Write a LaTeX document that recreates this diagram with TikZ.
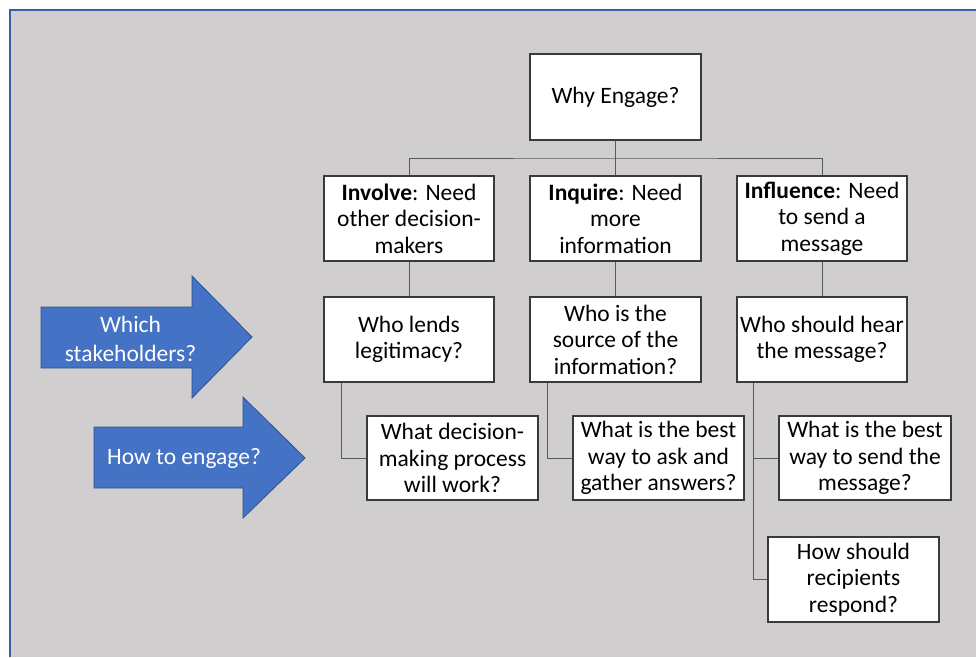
\documentclass[tikz,border=0pt]{standalone}
\usepackage{fontspec}
\setmainfont{Carlito}
\definecolor{bg}{HTML}{D0CECE}
\definecolor{arrowblue}{HTML}{4472C4}
\definecolor{arrowline}{HTML}{2F528F}
\definecolor{frameblue}{HTML}{3B5EA6}
\definecolor{boxline}{HTML}{3A3A3A}
\definecolor{connline}{HTML}{595959}
\begin{document}
\begin{tikzpicture}[x=1pt,y=-1pt,
  box/.style={draw=boxline, line width=1.1pt, fill=white, inner sep=0pt, align=center,
    font=\fontsize{23.5}{26.5}\selectfont},
  conn/.style={draw=connline, line width=1pt},
  bigarrow/.style={fill=arrowblue, draw=arrowline, line width=0.8pt, line join=miter},
  arrowtext/.style={text=white, align=center, inner sep=0pt, font=\fontsize{23.5}{29}\selectfont}]
\useasboundingbox (0,0) rectangle (976,657);
\fill[white] (0,0) rectangle (976,657);
\fill[bg] (10,10) rectangle (976,657);
\draw[frameblue, line width=2pt] (10,657) -- (10,10) -- (976,10);

% boxes
\node[box, minimum width=171pt, minimum height=86pt] (top) at (615.5,97) {Why Engage?};
\node[box, minimum width=170pt, minimum height=85pt] (inv) at (409,218.5) {\textbf{Involve}: Need\\other decision-\\makers};
\node[box, minimum width=171pt, minimum height=85pt] (inq) at (615.5,218.5) {\textbf{Inquire}: Need\\more\\information};
\node[box, minimum width=170pt, minimum height=85pt] (inf) at (822,218.5) {\textbf{Influence}: Need\\to send a\\message};
\node[box, minimum width=170pt, minimum height=85pt] (s1) at (409,339.5) {Who lends\\legitimacy?};
\node[box, minimum width=171pt, minimum height=85pt] (s2) at (615.5,339.5) {Who is the\\source of the\\information?};
\node[box, minimum width=170pt, minimum height=85pt] (s3) at (822,339.5) {Who should hear\\the message?};
\node[box, minimum width=171pt, minimum height=84pt] (h1) at (452.5,458) {What decision-\\making process\\will work?};
\node[box, minimum width=171pt, minimum height=84pt] (h2) at (658.5,458) {What is the best\\way to ask and\\gather answers?};
\node[box, minimum width=172pt, minimum height=84pt] (h3) at (865,458) {What is the best\\way to send the\\message?};
\node[box, minimum width=171pt, minimum height=85pt] (h4) at (853.5,579.5) {How should\\recipients\\respond?};

% connectors
\coordinate (bus) at (615.5,158);
\draw[conn] (top.south) -- (inq.north);
\draw[conn] (inv.north) |- (bus) -| (inf.north);
\draw[conn] (inv.south) -- (s1.north);
\draw[conn] (inq.south) -- (s2.north);
\draw[conn] (inf.south) -- (s3.north);
\draw[conn] ([xshift=18pt]s1.south west) |- (h1.west);
\draw[conn] ([xshift=18pt]s2.south west) |- (h2.west);
\draw[conn] ([xshift=17pt]s3.south west) |- (h3.west);
\draw[conn] ([xshift=17pt]s3.south west) |- (h4.west);

% big arrows
\path[bigarrow] (41,307) -- (192,307) -- (192,276) -- (252,337) -- (192,398) -- (192,368) -- (41,368) -- cycle;
\node[arrowtext] (a1) at (130.5,339) {Which\\stakeholders?};
\path[bigarrow] (94,427) -- (243,427) -- (243,397) -- (305,458) -- (243,518) -- (243,488) -- (94,488) -- cycle;
\node[arrowtext] (a2) at (184,458) {How to engage?};
\end{tikzpicture}
\end{document}
